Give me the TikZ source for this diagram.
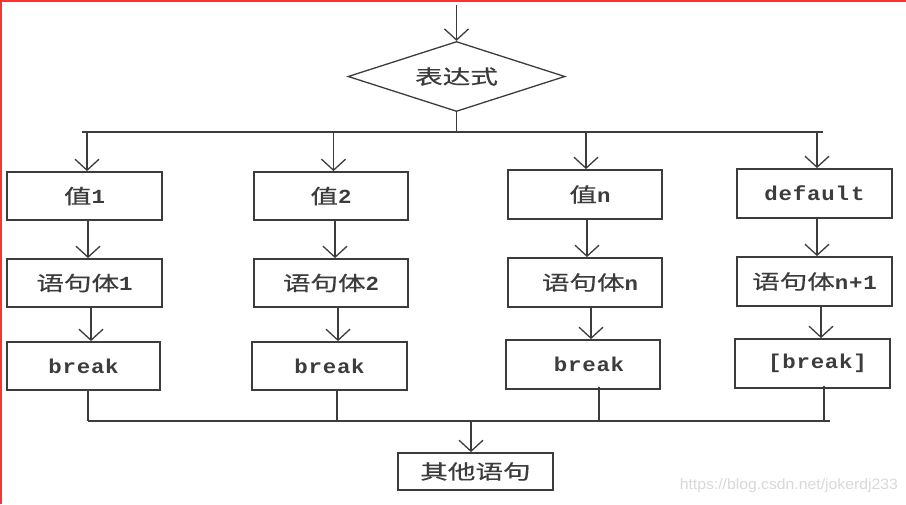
\documentclass[tikz,border=0pt]{standalone}
\usepackage{fontspec}
\usetikzlibrary{shapes.geometric,arrows.meta,calc}
\newfontfamily\cjkfont[FakeStretch=1.38,FakeBold=0.6]{Noto Sans CJK SC}
\newfontfamily\monofont[FakeStretch=1.12,LetterSpace=4]{Liberation Mono Bold}
\newfontfamily\wmfont[FakeStretch=1.05]{Liberation Sans}
\newcommand{\zhtxt}[1]{{\cjkfont #1}}
\newcommand{\entxt}[1]{{\monofont #1}}
\definecolor{ink}{HTML}{3C3C3C}
\definecolor{redline}{HTML}{FF3030}
\definecolor{wmgray}{HTML}{D8D8D8}
\begin{document}
\begin{tikzpicture}[x=1pt,y=-1pt,
  every node/.style={font=\fontsize{20}{23}\selectfont, text=ink},
  box/.style={draw=ink, line width=1.8pt, rectangle, inner sep=0pt, minimum width=155pt, minimum height=48pt},
  dia/.style={draw=ink, line width=1.3pt, diamond, aspect=3.1, inner sep=0pt, minimum width=217pt, minimum height=70pt},
  ln/.style={draw=ink, line width=1.5pt},
  arr/.style={ln, -{Straight Barb[length=11pt,width=24pt,line width=1.3pt]}}
]
\useasboundingbox (0,0) rectangle (906,504);
\draw[redline, line width=1.6pt] (0.8,504) -- (0.8,0.8) -- (906,0.8);

% expression diamond
\node[dia] (expr) at (456.5,76.5) {\zhtxt{表达式}};
\coordinate (top) at (456.5,5);
\draw[arr] (top) -- (expr.north);

% top bus
\coordinate (busL) at (82,132);
\coordinate (busR) at (823,132);
\coordinate (busM) at (456.5,132);
\draw[ln] (expr.south) -- (busM);
\draw[ln] (busL) -- (busR);

% column 1
\node[box] (v1) at (84.5,196) {\zhtxt{值}\entxt{1}};
\node[box] (s1) at (84.5,283) {\zhtxt{语句体}\entxt{1}};
\node[box, minimum width=153pt] (k1) at (83.5,366) {\entxt{break}};
% column 2
\node[box, minimum width=154pt] (v2) at (331,196) {\zhtxt{值}\entxt{2}};
\node[box, minimum width=154pt] (s2) at (331,283) {\zhtxt{语句体}\entxt{2}};
\node[box, minimum width=155pt] (k2) at (329.5,366) {\entxt{break}};
% column 3
\node[box, minimum width=154pt, minimum height=49pt] (v3) at (585,194.5) {\hspace{10pt}\zhtxt{值}\entxt{n}};
\node[box, minimum width=154pt, minimum height=49pt] (s3) at (585,282.5) {\hspace{10pt}\zhtxt{语句体}\entxt{n}};
\node[box, minimum width=154pt, minimum height=49pt] (k3) at (583,364.5) {\hspace{12pt}\entxt{break}};
% column 4
\node[box, minimum height=49pt] (v4) at (814.5,193.5) {\entxt{defaul\hspace{2pt}t}};
\node[box, minimum height=49pt] (s4) at (814.5,281.5) {\zhtxt{语句体}\entxt{n+1}};
\node[box, minimum height=49pt] (k4) at (812.5,363.5) {\hspace{10pt}\entxt{[break]}};

% bottom box
\node[box, minimum height=37pt] (other) at (475.5,471.5) {\zhtxt{其他语句}};

% arrows from top bus
\coordinate (t1) at (87,132);
\coordinate (t2) at (333.5,132);
\coordinate (t3) at (586,132);
\coordinate (t4) at (817,132);
\draw[arr] (t1) -- (t1 |- v1.north);
\draw[arr] (t2) -- (t2 |- v2.north);
\draw[arr] (t3) -- (t3 |- v3.north);
\draw[arr] (t4) -- (t4 |- v4.north);

% arrows within columns
\draw[arr] ([xshift=3.5pt]v1.south) -- ([xshift=3.5pt]v1.south |- s1.north);
\draw[arr] ([xshift=6.5pt]s1.south) -- ([xshift=6.5pt]s1.south |- k1.north);
\draw[arr] ([xshift=4pt]v2.south) -- ([xshift=4pt]v2.south |- s2.north);
\draw[arr] ([xshift=7pt]s2.south) -- ([xshift=7pt]s2.south |- k2.north);
\draw[arr] ([xshift=2pt]v3.south) -- ([xshift=2pt]v3.south |- s3.north);
\draw[arr] ([xshift=6pt]s3.south) -- ([xshift=6pt]s3.south |- k3.north);
\draw[arr] ([xshift=2.5pt]v4.south) -- ([xshift=2.5pt]v4.south |- s4.north);
\draw[arr] ([xshift=6.5pt]s4.south) -- ([xshift=6.5pt]s4.south |- k4.north);

% bottom bus
\coordinate (d1) at (88,421);
\coordinate (d2) at (337,421);
\coordinate (d3) at (599,421);
\coordinate (d4) at (824,421);
\coordinate (dR) at (830,421);
\coordinate (dM) at (471,421);
\draw[ln] ([yshift=2pt]d1 |- k1.south) -- (d1);
\draw[ln] ([yshift=2pt]d2 |- k2.south) -- (d2);
\draw[ln] ([yshift=3pt]d3 |- k3.south) -- (d3);
\draw[ln] ([yshift=3pt]d4 |- k4.south) -- (d4);
\draw[ln] (d1) -- (dR);
\draw[arr] (dM) -- (dM |- other.north);

% watermark
\node[anchor=east, inner sep=0pt, text=wmgray, font=\wmfont\fontsize{15}{17}\selectfont] (wm) at (898,486) {https://blog.csdn.net/jokerdj233};
\end{tikzpicture}
\end{document}
